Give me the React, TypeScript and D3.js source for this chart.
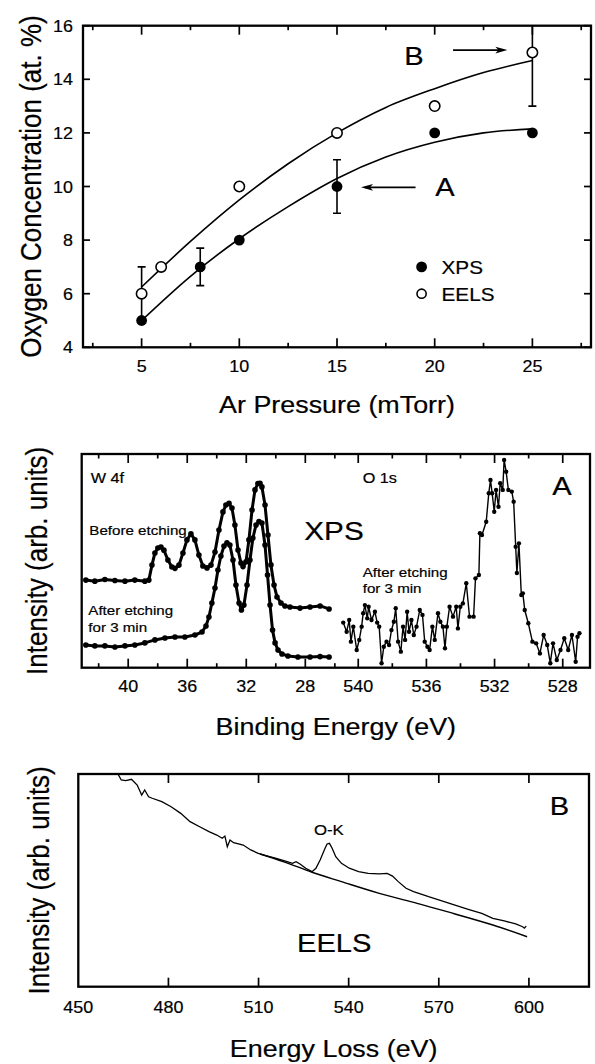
import React from 'react';
import * as d3 from 'd3';

const FONT = '"Liberation Sans", Arial, Helvetica, sans-serif';
const SX = 1.12;

// ---------- Panel 1: oxygen concentration vs Ar pressure ----------
const xpsPressure = [5, 8, 10, 15, 20, 25];
const xpsOxygen = [5, 7, 8, 10, 12, 12];
const xpsError = [0, 0.7, 0, 1, 0, 0];
const eelsPressure = [5, 6, 10, 15, 20, 25];
const eelsOxygen = [6, 7, 10, 12, 13, 15];
const eelsError = [1, 0, 0, 0, 0, 2];
const fitPressure = [5, 7.5, 10, 12.5, 15, 17.5, 20, 22.5, 25];
const fitXps = [5.0, 6.65, 8.05, 9.25, 10.3, 11.1, 11.65, 12.0, 12.15];
const fitEels = [6.25, 7.95, 9.5, 10.85, 12.0, 12.95, 13.65, 14.25, 14.7];
const pressureTicks = [5, 10, 15, 20, 25];
const pressureMinor = [2.5, 7.5, 12.5, 17.5, 22.5, 27.5];
const oxygenTicks = [4, 6, 8, 10, 12, 14, 16];

// ---------- Panel 2: XPS spectra ----------
const w4fBeforeE = [42.87, 42.26, 41.58, 40.9, 40.22, 39.55, 38.87, 38.6, 38.39, 38.19, 37.99, 37.78, 37.58, 37.31, 37.04, 36.83, 36.56, 36.29, 36.02, 35.75, 35.48, 35.21, 34.94, 34.66, 34.39, 34.12, 33.85, 33.58, 33.38, 33.17, 32.97, 32.77, 32.56, 32.36, 32.22, 32.02, 31.82, 31.61, 31.41, 31.21, 31.07, 30.94, 30.73, 30.53, 30.33, 30.12, 29.92, 29.65, 29.38, 29.04, 28.36, 27.68, 27.0, 26.39];
const w4fBeforeI = [0.41, 0.405, 0.413, 0.408, 0.405, 0.41, 0.405, 0.41, 0.48, 0.537, 0.56, 0.565, 0.55, 0.504, 0.471, 0.465, 0.48, 0.537, 0.598, 0.626, 0.598, 0.527, 0.476, 0.467, 0.48, 0.541, 0.644, 0.729, 0.761, 0.769, 0.747, 0.668, 0.551, 0.49, 0.473, 0.495, 0.598, 0.738, 0.832, 0.862, 0.863, 0.846, 0.761, 0.621, 0.481, 0.387, 0.331, 0.303, 0.289, 0.284, 0.279, 0.284, 0.289, 0.275];
const w4fAfterE = [42.87, 42.26, 41.58, 40.9, 40.22, 39.55, 38.87, 38.19, 37.51, 36.83, 36.16, 35.48, 35.0, 34.73, 34.53, 34.33, 34.12, 33.92, 33.72, 33.51, 33.31, 33.11, 32.9, 32.7, 32.49, 32.33, 32.16, 31.95, 31.75, 31.55, 31.34, 31.14, 30.94, 30.73, 30.56, 30.39, 30.22, 30.05, 29.85, 29.58, 29.18, 28.5, 27.68, 27.0, 26.39];
const w4fAfterI = [0.106, 0.102, 0.102, 0.097, 0.102, 0.106, 0.116, 0.13, 0.139, 0.144, 0.144, 0.153, 0.167, 0.195, 0.237, 0.303, 0.373, 0.457, 0.523, 0.569, 0.584, 0.574, 0.504, 0.387, 0.303, 0.27, 0.293, 0.387, 0.504, 0.607, 0.668, 0.684, 0.677, 0.574, 0.434, 0.293, 0.176, 0.116, 0.083, 0.064, 0.055, 0.05, 0.05, 0.052, 0.05];
const o1sE = [540.88, 540.68, 540.53, 540.43, 540.29, 540.09, 539.94, 539.8, 539.71, 539.61, 539.47, 539.39, 539.22, 539.02, 538.89, 538.77, 538.63, 538.5, 538.34, 538.19, 538.05, 537.91, 537.8, 537.66, 537.5, 537.37, 537.25, 537.13, 537.02, 536.88, 536.74, 536.58, 536.39, 536.23, 536.1, 535.94, 535.81, 535.65, 535.51, 535.32, 535.18, 535.03, 534.91, 534.8, 534.64, 534.44, 534.25, 534.15, 534.01, 533.86, 533.66, 533.47, 533.23, 533.12, 532.92, 532.86, 532.74, 532.49, 532.34, 532.24, 532.14, 532.02, 531.91, 531.77, 531.67, 531.52, 531.44, 531.32, 531.19, 530.99, 530.88, 530.76, 530.69, 530.57, 530.43, 530.34, 530.23, 530.02, 529.78, 529.56, 529.34, 529.12, 528.91, 528.73, 528.57, 528.35, 528.13, 527.91, 527.68, 527.46, 527.24, 527.13, 527.02];
const o1sI = [0.211, 0.168, 0.223, 0.122, 0.192, 0.083, 0.13, 0.192, 0.255, 0.293, 0.231, 0.285, 0.223, 0.262, 0.211, 0.192, 0.021, 0.098, 0.122, 0.106, 0.176, 0.215, 0.278, 0.122, 0.075, 0.192, 0.13, 0.262, 0.168, 0.223, 0.153, 0.192, 0.27, 0.247, 0.122, 0.098, 0.083, 0.192, 0.13, 0.255, 0.215, 0.192, 0.091, 0.192, 0.285, 0.239, 0.285, 0.184, 0.285, 0.301, 0.395, 0.239, 0.239, 0.418, 0.434, 0.629, 0.621, 0.683, 0.816, 0.878, 0.816, 0.73, 0.832, 0.753, 0.863, 0.832, 0.972, 0.917, 0.832, 0.824, 0.777, 0.566, 0.443, 0.582, 0.34, 0.348, 0.27, 0.208, 0.122, 0.114, 0.067, 0.153, 0.106, 0.021, 0.114, 0.036, 0.083, 0.138, 0.083, 0.153, 0.028, 0.145, 0.161];
const w4fTicks = [42, 40, 38, 36, 34, 32, 30, 28, 26];
const w4fLabels = [40, 36, 32, 28];
const o1sTicks = [540, 538, 536, 534, 532, 530, 528];
const o1sLabels = [540, 536, 532, 528];

// ---------- Panel 3: EELS spectrum ----------
const eelsE = [463.2, 464.3, 465.8, 467.7, 469.6, 471.1, 472.1, 473.4, 474.6, 477.8, 480.9, 484.1, 487.2, 490.4, 493.5, 496.1, 497.9, 498.8, 499.6, 500.5, 501.7, 504.9, 507.4, 509.9, 512.4, 515.6, 518.7, 521.3, 522.5, 523.8, 525.7, 527.8, 529.1, 530.5, 532.0, 532.8, 533.6, 534.5, 535.7, 537.6, 540.2, 543.3, 546.5, 550.2, 552.8, 554.6, 556.5, 559.1, 561.6, 566.6, 571.0, 575.4, 579.8, 584.3, 588.0, 591.8, 595.6, 597.9, 598.5, 599.1];
const eelsI = [1.0, 0.972, 0.969, 0.975, 0.948, 0.901, 0.925, 0.893, 0.886, 0.87, 0.846, 0.815, 0.776, 0.752, 0.729, 0.713, 0.698, 0.708, 0.658, 0.69, 0.677, 0.666, 0.643, 0.627, 0.616, 0.604, 0.592, 0.58, 0.588, 0.577, 0.557, 0.541, 0.557, 0.596, 0.646, 0.671, 0.674, 0.651, 0.611, 0.58, 0.557, 0.541, 0.533, 0.53, 0.533, 0.52, 0.494, 0.463, 0.447, 0.423, 0.404, 0.384, 0.364, 0.345, 0.321, 0.309, 0.295, 0.282, 0.275, 0.285];
const bgE = [510.5, 518.7, 527.8, 537.6, 550.2, 562.8, 575.4, 588.0, 599.4];
const bgI = [0.624, 0.586, 0.538, 0.494, 0.439, 0.392, 0.342, 0.29, 0.235];
const lossTicks = [450, 480, 510, 540, 570, 600];

// ---------- layout ----------
const A = { l: 83, r: 591, t: 25.7, b: 347.3 };
const B = { l: 81.7, split: 340, r: 590, t: 454, b: 667.7 };
const C = { l: 78.3, r: 589, t: 774, b: 986.7 };

const xA = d3.scaleLinear().domain([2, 28]).range([A.l, A.r]);
const yA = d3.scaleLinear().domain([4, 16]).range([A.b, A.t]);
const xBL = d3.scaleLinear().domain([43.15, 25.65]).range([B.l, B.split]);
const xBR = d3.scaleLinear().domain([541.07, 526.4]).range([B.split, B.r]);
const yB = d3.scaleLinear().domain([0, 1]).range([B.b, B.t]);
const xC = d3.scaleLinear().domain([450, 620]).range([C.l, C.r]);
const yC = d3.scaleLinear().domain([0, 1]).range([C.b, C.t]);

const TXT_STROKE = 0.2;

function HText({ x, y, size, anchor = 'start', children }: any) {
  return (
    <text transform={`translate(${x},${y}) scale(${SX},1)`} fontSize={size} textAnchor={anchor} fontFamily={FONT} fill="#000" stroke="#000" strokeWidth={TXT_STROKE}>
      {children}
    </text>
  );
}
function VText({ x, y, size, children }: any) {
  return (
    <text transform={`translate(${x},${y}) rotate(-90) scale(1,${SX})`} fontSize={size} textAnchor="middle" fontFamily={FONT} fill="#000" stroke="#000" strokeWidth={TXT_STROKE}>
      {children}
    </text>
  );
}

function Arrow({ x1, x2, y }: any) {
  const dir = x2 > x1 ? 1 : -1;
  const hl = 12;
  const hw = 3.4;
  return (
    <g>
      <line x1={x1} x2={x2 - dir * 4} y1={y} y2={y} stroke="#000" strokeWidth={1.7} />
      <path d={`M${x2},${y} L${x2 - dir * hl},${y - hw} L${x2 - dir * (hl - 3)},${y} L${x2 - dir * hl},${y + hw} Z`} fill="#000" />
    </g>
  );
}

export default function App() {
  const lineA = (ys: number[]) =>
    d3.line<number>().x((_, i) => xA(fitPressure[i])).y((d) => yA(d)).curve(d3.curveMonotoneX)(ys) || '';
  const lineBL = (es: number[], is: number[]) =>
    d3.line<number>().x((e) => xBL(e)).y((_, i) => yB(is[i]))(es) || '';
  const lineBR = d3.line<number>().x((e) => xBR(e)).y((_, i) => yB(o1sI[i]))(o1sE) || '';
  const lineC = d3.line<number>().x((e) => xC(e)).y((_, i) => yC(eelsI[i]))(eelsE) || '';
  const lineBg = d3.line<number>().x((e) => xC(e)).y((_, i) => yC(bgI[i])).curve(d3.curveNatural)(bgE) || '';

  const tickLen = 9;
  const minorLen = 4.5;
  const TS = 16;

  return (
    <svg width={595} height={1064} style={{ position: 'absolute', left: 0, top: 0, background: '#fff' }}>
      <defs>
        <clipPath id="clipA">
          <rect x={A.l} y={A.t} width={A.r - A.l} height={A.b - A.t} />
        </clipPath>
        <clipPath id="clipC">
          <rect x={C.l} y={C.t} width={C.r - C.l} height={C.b - C.t} />
        </clipPath>
      </defs>

      {/* ================= Panel 1 ================= */}
      <g>
        {pressureTicks.map((p) => (
          <g key={'pt' + p}>
            <line x1={xA(p)} x2={xA(p)} y1={A.b} y2={A.b - tickLen} stroke="#000" strokeWidth={1.7} />
            <line x1={xA(p)} x2={xA(p)} y1={A.t} y2={A.t + tickLen} stroke="#000" strokeWidth={1.7} />
            <HText x={xA(p)} y={A.b + 25} size={TS} anchor="middle">{p}</HText>
          </g>
        ))}
        {pressureMinor.map((p) => (
          <g key={'pm' + p}>
            <line x1={xA(p)} x2={xA(p)} y1={A.b} y2={A.b - minorLen} stroke="#000" strokeWidth={1.7} />
            <line x1={xA(p)} x2={xA(p)} y1={A.t} y2={A.t + minorLen} stroke="#000" strokeWidth={1.7} />
          </g>
        ))}
        {oxygenTicks.map((v) => (
          <g key={'ot' + v}>
            <line x1={A.l} x2={A.l + 7} y1={yA(v)} y2={yA(v)} stroke="#000" strokeWidth={1.7} />
            <line x1={A.r} x2={A.r - 7} y1={yA(v)} y2={yA(v)} stroke="#000" strokeWidth={1.7} />
            <HText x={A.l - 10} y={yA(v) + 6} size={TS} anchor="end">{v}</HText>
          </g>
        ))}
        <rect x={A.l} y={A.t} width={A.r - A.l} height={A.b - A.t} fill="none" stroke="#000" strokeWidth={2.3} />

        <path d={lineA(fitXps)} fill="none" stroke="#000" strokeWidth={1.6} />
        <path d={lineA(fitEels)} fill="none" stroke="#000" strokeWidth={1.6} />

        <g clipPath="url(#clipA)">
          {xpsPressure.map((p, i) =>
            xpsError[i] > 0 ? (
              <g key={'xe' + i}>
                <line x1={xA(p)} x2={xA(p)} y1={yA(xpsOxygen[i] - xpsError[i])} y2={yA(xpsOxygen[i] + xpsError[i])} stroke="#000" strokeWidth={1.6} />
                <line x1={xA(p) - 4} x2={xA(p) + 4} y1={yA(xpsOxygen[i] - xpsError[i])} y2={yA(xpsOxygen[i] - xpsError[i])} stroke="#000" strokeWidth={1.6} />
                <line x1={xA(p) - 4} x2={xA(p) + 4} y1={yA(xpsOxygen[i] + xpsError[i])} y2={yA(xpsOxygen[i] + xpsError[i])} stroke="#000" strokeWidth={1.6} />
              </g>
            ) : null
          )}
          {eelsPressure.map((p, i) =>
            eelsError[i] > 0 ? (
              <g key={'ee' + i}>
                <line x1={xA(p)} x2={xA(p)} y1={yA(eelsOxygen[i] - eelsError[i])} y2={yA(eelsOxygen[i] + eelsError[i])} stroke="#000" strokeWidth={1.6} />
                <line x1={xA(p) - 4} x2={xA(p) + 4} y1={yA(eelsOxygen[i] - eelsError[i])} y2={yA(eelsOxygen[i] - eelsError[i])} stroke="#000" strokeWidth={1.6} />
                <line x1={xA(p) - 4} x2={xA(p) + 4} y1={yA(eelsOxygen[i] + eelsError[i])} y2={yA(eelsOxygen[i] + eelsError[i])} stroke="#000" strokeWidth={1.6} />
              </g>
            ) : null
          )}
        </g>
        {xpsPressure.map((p, i) => (
          <circle key={'xp' + i} cx={xA(p)} cy={yA(xpsOxygen[i])} r={5.4} fill="#000" />
        ))}
        {eelsPressure.map((p, i) => (
          <circle key={'ep' + i} cx={xA(p)} cy={yA(eelsOxygen[i])} r={5.2} fill="#fff" stroke="#000" strokeWidth={1.6} />
        ))}

        <HText x={xA(18.94)} y={yA(14.53)} size={26} anchor="middle">B</HText>
        <Arrow x1={xA(20.94)} x2={xA(23.72)} y={yA(15.09)} />
        <HText x={xA(20.53)} y={yA(9.63)} size={26} anchor="middle">A</HText>
        <Arrow x1={xA(19.02)} x2={xA(16.23)} y={yA(9.97)} />

        <circle cx={xA(19.33)} cy={yA(7.0)} r={5.4} fill="#000" />
        <HText x={xA(20.35)} y={yA(7.0) + 7} size={18.5}>XPS</HText>
        <circle cx={xA(19.33)} cy={yA(6.0)} r={4.6} fill="#fff" stroke="#000" strokeWidth={1.6} />
        <HText x={xA(20.35)} y={yA(6.0) + 7} size={18.5}>EELS</HText>

        <VText x={41} y={(A.t + A.b) / 2} size={26}>Oxygen Concentration (at. %)</VText>
        <HText x={(A.l + A.r) / 2} y={413.3} size={24} anchor="middle">Ar Pressure (mTorr)</HText>
      </g>

      {/* ================= Panel 2 ================= */}
      <g>
        {w4fTicks.map((e) => {
          const major = w4fLabels.includes(e);
          const len = major ? tickLen : minorLen;
          return (
            <g key={'wt' + e}>
              <line x1={xBL(e)} x2={xBL(e)} y1={B.b} y2={B.b - len} stroke="#000" strokeWidth={1.7} />
              <line x1={xBL(e)} x2={xBL(e)} y1={B.t} y2={B.t + len} stroke="#000" strokeWidth={1.7} />
            </g>
          );
        })}
        {w4fLabels.map((e) => (
          <HText key={'wl' + e} x={xBL(e)} y={B.b + 24.5} size={TS} anchor="middle">{e}</HText>
        ))}
        {o1sTicks.map((e) => {
          const major = o1sLabels.includes(e);
          const len = major ? tickLen : minorLen;
          return (
            <g key={'ot2' + e}>
              <line x1={xBR(e)} x2={xBR(e)} y1={B.b} y2={B.b - len} stroke="#000" strokeWidth={1.7} />
              <line x1={xBR(e)} x2={xBR(e)} y1={B.t} y2={B.t + len} stroke="#000" strokeWidth={1.7} />
            </g>
          );
        })}
        {o1sLabels.map((e) => (
          <HText key={'ol' + e} x={xBR(e)} y={B.b + 24.5} size={TS} anchor="middle">{e}</HText>
        ))}
        <rect x={B.l} y={B.t} width={B.r - B.l} height={B.b - B.t} fill="none" stroke="#000" strokeWidth={2.3} />

        <path d={lineBL(w4fBeforeE, w4fBeforeI)} fill="none" stroke="#000" strokeWidth={3} strokeLinejoin="round" />
        <path d={lineBL(w4fAfterE, w4fAfterI)} fill="none" stroke="#000" strokeWidth={3} strokeLinejoin="round" />
        {w4fBeforeE.map((e, i) => (
          <circle key={'wb' + i} cx={xBL(e)} cy={yB(w4fBeforeI[i])} r={2.8} fill="#000" />
        ))}
        {w4fAfterE.map((e, i) => (
          <circle key={'wa' + i} cx={xBL(e)} cy={yB(w4fAfterI[i])} r={2.8} fill="#000" />
        ))}
        <path d={lineBR} fill="none" stroke="#000" strokeWidth={1.4} />
        {o1sE.map((e, i) => (
          <circle key={'o1' + i} cx={xBR(e)} cy={yB(o1sI[i])} r={2.2} fill="#000" />
        ))}

        <HText x={90.7} y={483.3} size={14.5}>W 4f</HText>
        <HText x={362.7} y={483.3} size={14.5}>O 1s</HText>
        <HText x={562} y={495} size={26} anchor="middle">A</HText>
        <HText x={334} y={540} size={26.5} anchor="middle">XPS</HText>
        <HText x={89.3} y={535} size={13.5}>Before etching</HText>
        <HText x={88.3} y={615} size={13.5}>After etching</HText>
        <HText x={88.3} y={631.7} size={13.5}>for 3 min</HText>
        <HText x={362.7} y={576.7} size={13.5}>After etching</HText>
        <HText x={362.7} y={593.3} size={13.5}>for 3 min</HText>

        <VText x={47} y={(B.t + B.b) / 2} size={26}>Intensity (arb. units)</VText>
        <HText x={(B.l + B.r) / 2} y={735} size={24} anchor="middle">Binding Energy (eV)</HText>
      </g>

      {/* ================= Panel 3 ================= */}
      <g>
        {lossTicks.filter((e) => e > 450).map((e) => (
          <g key={'lt' + e}>
            <line x1={xC(e)} x2={xC(e)} y1={C.b} y2={C.b - tickLen} stroke="#000" strokeWidth={1.7} />
            <line x1={xC(e)} x2={xC(e)} y1={C.t} y2={C.t + tickLen} stroke="#000" strokeWidth={1.7} />
          </g>
        ))}
        {lossTicks.map((e) => (
          <HText key={'ll' + e} x={xC(e)} y={C.b + 26.6} size={TS} anchor="middle">{e}</HText>
        ))}
        <rect x={C.l} y={C.t} width={C.r - C.l} height={C.b - C.t} fill="none" stroke="#000" strokeWidth={2.3} />
        <g clipPath="url(#clipC)">
          <path d={lineC} fill="none" stroke="#000" strokeWidth={1.3} />
          <path d={lineBg} fill="none" stroke="#000" strokeWidth={1.4} />
        </g>
        <HText x={xC(533.4)} y={835} size={15} anchor="middle">O-K</HText>
        <HText x={xC(535.2)} y={951.7} size={26} anchor="middle">EELS</HText>
        <HText x={559.5} y={815} size={26} anchor="middle">B</HText>

        <VText x={49} y={(C.t + C.b) / 2} size={26}>Intensity (arb. units)</VText>
        <HText x={(C.l + C.r) / 2} y={1056.7} size={24} anchor="middle">Energy Loss (eV)</HText>
      </g>
    </svg>
  );
}
